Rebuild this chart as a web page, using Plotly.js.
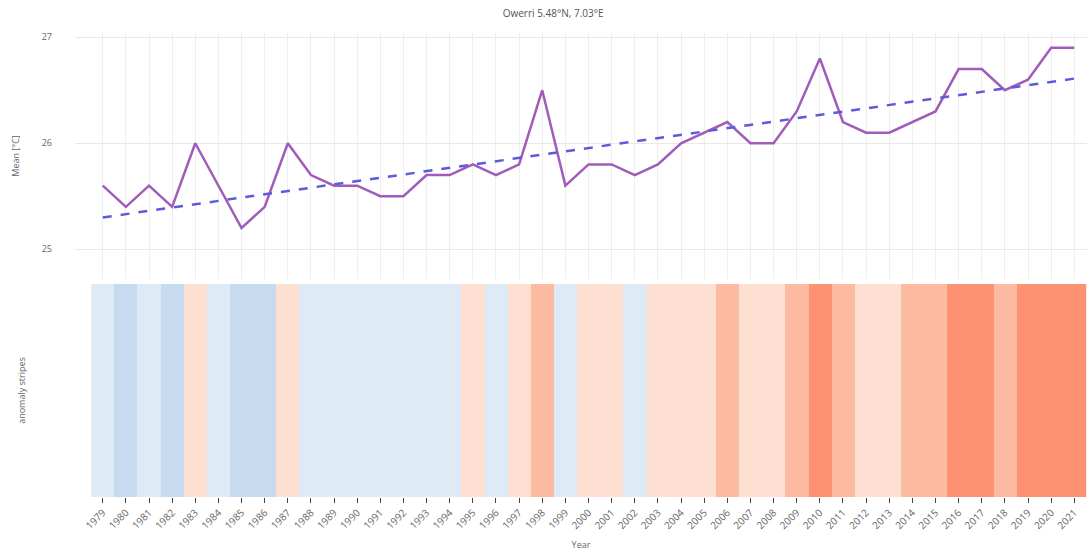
<!DOCTYPE html>
<html>
<head>
<meta charset="utf-8">
<script src="https://cdn.plot.ly/plotly-3.0.1.min.js"></script>
<style>html,body{margin:0;padding:0;background:#fff;}#chart{width:1091px;height:558px;}</style>
</head>
<body>
<div id="chart"></div>
<script>
// Data
const years = [1979,1980,1981,1982,1983,1984,1985,1986,1987,1988,1989,1990,1991,1992,1993,1994,1995,1996,1997,1998,1999,2000,2001,2002,2003,2004,2005,2006,2007,2008,2009,2010,2011,2012,2013,2014,2015,2016,2017,2018,2019,2020,2021];
const meanTemp = [25.6,25.4,25.6,25.4,26.0,25.6,25.2,25.4,26.0,25.7,25.6,25.6,25.5,25.5,25.7,25.7,25.8,25.7,25.8,26.5,25.6,25.8,25.8,25.7,25.8,26.0,26.1,26.2,26.0,26.0,26.3,26.8,26.2,26.1,26.1,26.2,26.3,26.7,26.7,26.5,26.6,26.9,26.9];
const trendYears = [1979, 2021];
const trendValues = [25.30, 26.61];
const tickLabels = years.map(String);
const stripeColors = ['#c6dbef','#deebf7','#fee0d2','#fcbba1','#fc9272'];
const stripeBounds = [25.15, 25.45, 25.75, 26.15, 26.55, 26.95];

// Build a stepped colorscale from the bins
const zmin = stripeBounds[0], zmax = stripeBounds[stripeBounds.length-1];
const colorscale = [];
for (let i = 0; i < stripeColors.length; i++) {
  const a = (stripeBounds[i]-zmin)/(zmax-zmin);
  const b = (stripeBounds[i+1]-zmin)/(zmax-zmin);
  colorscale.push([a, stripeColors[i]]);
  colorscale.push([b, stripeColors[i]]);
}

const traces = [
  {
    type: 'scatter', mode: 'lines', x: years, y: meanTemp,
    line: {color: '#a15cb9', width: 2.5}, xaxis: 'x', yaxis: 'y', showlegend: false
  },
  {
    type: 'scatter', mode: 'lines', x: trendYears, y: trendValues,
    line: {color: '#5b5bdc', width: 2.5, dash: 'dash'}, xaxis: 'x', yaxis: 'y', showlegend: false
  },
  {
    type: 'heatmap', x: years, y: [0], z: [meanTemp],
    colorscale: colorscale, zmin: zmin, zmax: zmax, showscale: false,
    xaxis: 'x2', yaxis: 'y2', hoverinfo: 'skip'
  }
];

const xr = [1977.8, 2021.55];
const fontColor = '#666';
const layout = {
  width: 1091, height: 558,
  margin: {l: 75, r: 4, t: 33, b: 61},
  paper_bgcolor: '#fff', plot_bgcolor: '#fff',
  font: {family: 'Open Sans, sans-serif', size: 9, color: fontColor},
  title: {text: 'Owerri 5.48°N, 7.03°E', x: 0.507, y: 0.975, yanchor: 'middle', font: {size: 10, color: '#555'}},
  xaxis: {
    domain: [0,1], range: xr, anchor: 'y', tickmode: 'array', tickvals: years, ticktext: tickLabels,
    showticklabels: false, showgrid: true, gridcolor: '#eeeeee', zeroline: false, showline: false
  },
  yaxis: {
    domain: [0.47, 1], range: [24.72, 27.04], tickvals: [25, 26, 27], ticktext: ['25','26','27'],
    showgrid: true, gridcolor: '#e8e8e8', zeroline: false, ticklabelstandoff: 22,
    title: {text: 'Mean [°C]', font: {size: 9, color: fontColor}, standoff: 20}
  },
  xaxis2: {
    domain: [0,1], range: xr, anchor: 'y2', tickmode: 'array', tickvals: years, ticktext: tickLabels,
    tickangle: -45, tickfont: {size: 10, color: fontColor}, showgrid: false, zeroline: false, showline: false,
    title: {text: 'Year', font: {size: 9, color: fontColor}, standoff: 10}
  },
  yaxis2: {
    domain: [0, 0.459], showticklabels: false, showgrid: false, zeroline: false, ticks: '',
    tickmode: 'array', tickvals: [],
    title: {text: 'anomaly stripes', font: {size: 9, color: fontColor}, standoff: 46}
  }
};

Plotly.newPlot('chart', traces, layout, {displayModeBar: false, staticPlot: true});
</script>
</body>
</html>
